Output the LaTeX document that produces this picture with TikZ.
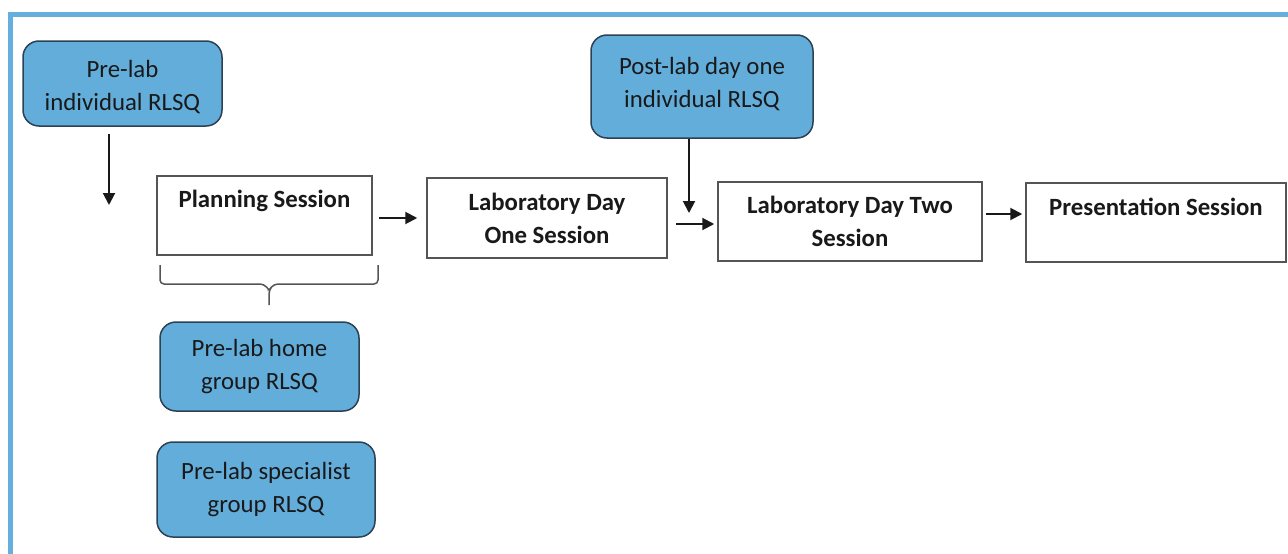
\documentclass[tikz,border=0pt]{standalone}
\usepackage{fontspec}
\setmainfont{Carlito}
\usetikzlibrary{arrows.meta}
\definecolor{frameblue}{RGB}{100,175,222}
\definecolor{boxblue}{RGB}{99,173,219}
\definecolor{boxedge}{RGB}{45,65,85}
\definecolor{greyedge}{RGB}{85,85,85}
\definecolor{txt}{RGB}{25,25,25}
\newcommand\fsz{\fontsize{24.8}{33}\selectfont}
\begin{document}
\begin{tikzpicture}[x=1pt,y=-1pt,
  bluebox/.style={draw=boxedge, line width=1.5pt, fill=boxblue, rounded corners=16pt,
    align=center, inner sep=0pt, font=\fsz, text=txt},
  whitebox/.style={draw=greyedge, line width=1.5pt, fill=white, inner sep=0pt,
    align=center, font=\fsz\bfseries, text=txt},
  lbl/.style={align=center, font=\fsz\bfseries, text=txt, inner sep=0pt},
  bluelbl/.style={align=center, font=\fsz, text=txt, inner sep=0pt},
  arr/.style={line width=2pt, draw=txt, -{Triangle[length=12pt,width=12pt]}},
  bracket/.style={draw=greyedge, line width=1.5pt, rounded corners=4pt}]
\useasboundingbox (0,0) rectangle (1288,554);
\fill[white] (0,0) rectangle (1288,554);
\draw[frameblue, line width=4.5pt] (1288,14.5) -- (10.5,14.5) -- (10.5,554);

% blue boxes
\node[bluebox, minimum width=199pt, minimum height=85pt] (pre) at (122.5,83.5) {};
\node[bluelbl] at ([yshift=-4pt]pre.center) {Pre-lab\\individual RLSQ};
\node[bluebox, minimum width=222pt, minimum height=103pt] (post) at (702,86.5) {};
\node[bluelbl] at ([yshift=2pt]post.center) {Post-lab day one\\individual RLSQ};
\node[bluebox, minimum width=199pt, minimum height=89pt] (home) at (259.5,366.5) {Pre-lab home\\group RLSQ};
\node[bluebox, minimum width=218pt, minimum height=95pt] (spec) at (266,489.5) {Pre-lab specialist\\group RLSQ};

% white boxes
\node[whitebox, minimum width=215pt, minimum height=79pt] (plan) at (264.5,215.5) {};
\node[lbl] at ([yshift=-26pt]plan.north) {Planning Session};
\node[whitebox, minimum width=240pt, minimum height=80pt] (one) at (547,218) {Laboratory Day\\One Session};
\node[whitebox, minimum width=264pt, minimum height=79pt] (two) at (850,221.5) {Laboratory Day Two\\Session};
\node[whitebox, minimum width=260pt, minimum height=79pt] (pres) at (1156,222.5) {};
\node[lbl] at ([yshift=-25pt]pres.north) {Presentation Session};

% bracket under planning session
\draw[bracket] (160,265) -- (160,284) -- (264,284) -- (269,290);
\draw[bracket] (378,265) -- (378,284) -- (274,284) -- (269,290) -- (269,305);

% arrows
\coordinate (a1e) at (109,205);
\draw[arr, shorten <=7pt] (pre.south -| a1e) -- (a1e);
\draw[arr, shorten <=6pt, shorten >=9pt] (plan.east |- one.west) -- (one.west);
\coordinate (a3e) at (689,213);
\draw[arr] (post.south -| a3e) -- (a3e);
\coordinate (a4) at (0,224);
\draw[arr, shorten <=8pt, shorten >=3pt] (one.east |- a4) -- (two.west |- a4);
\coordinate (a5) at (0,214);
\draw[arr, shorten <=3pt, shorten >=3pt] (two.east |- a5) -- (pres.west |- a5);
\end{tikzpicture}
\end{document}
